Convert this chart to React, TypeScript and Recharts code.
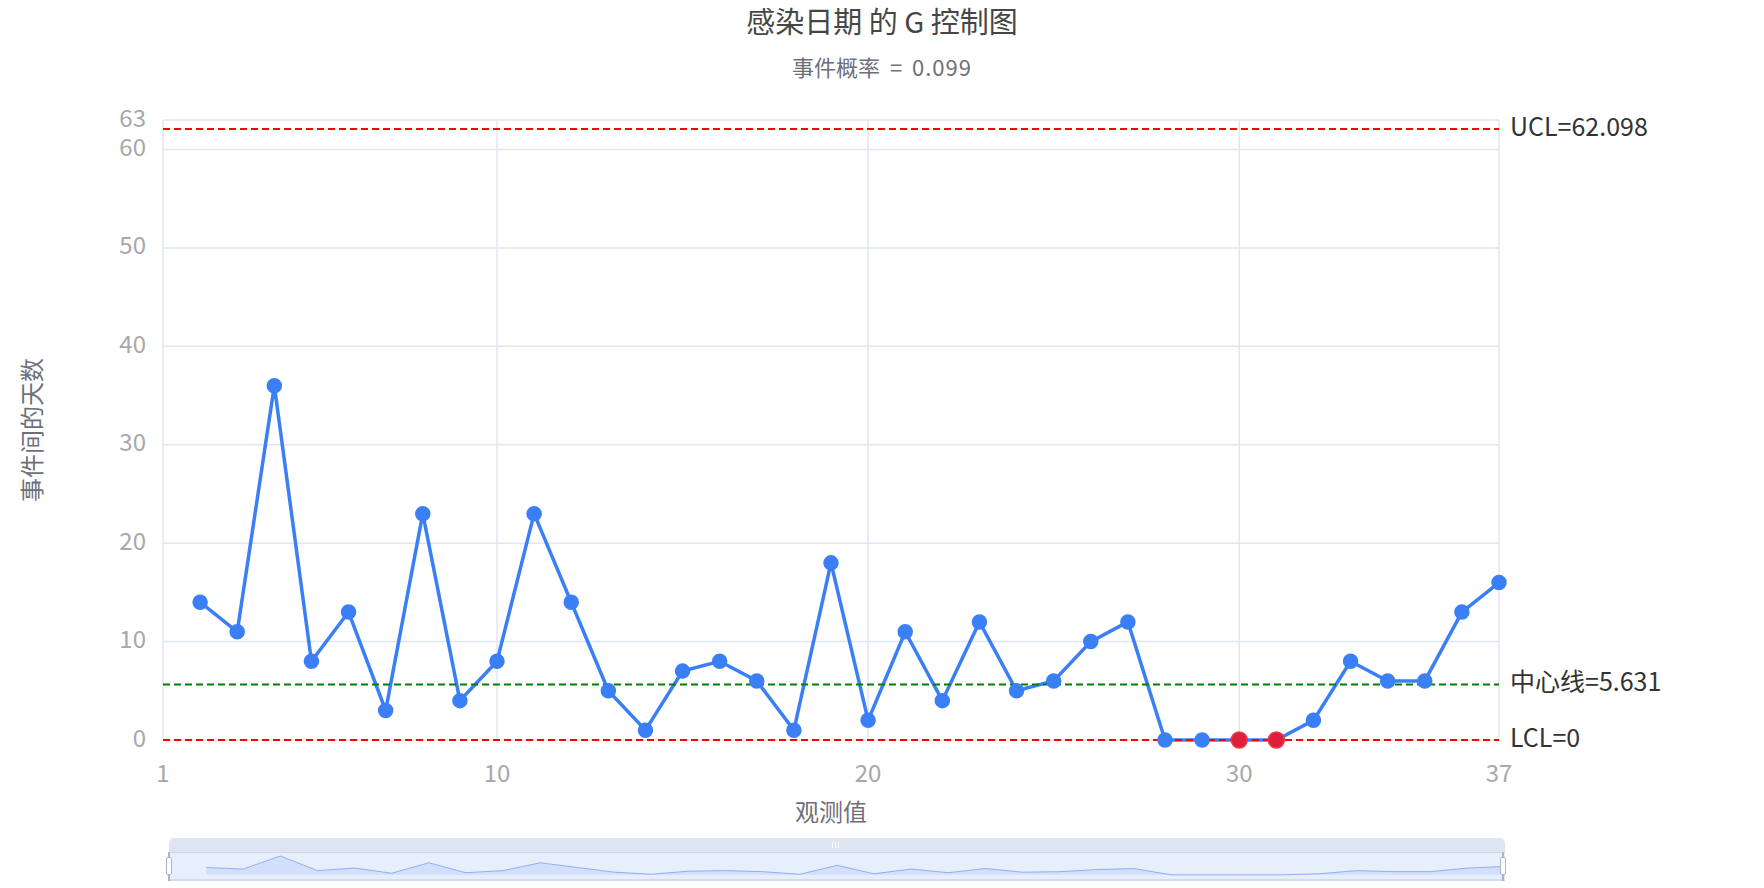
import {
  LineChart,
  Line,
  XAxis,
  YAxis,
  CartesianGrid,
  ReferenceLine,
  Label,
  AreaChart,
  Area,
} from "recharts";

// observation number (the first event has no interval, so the series starts at 2)
const observations = [
  2, 3, 4, 5, 6, 7, 8, 9, 10, 11, 12, 13, 14, 15, 16, 17, 18, 19, 20, 21, 22, 23, 24, 25, 26, 27, 28,
  29, 30, 31, 32, 33, 34, 35, 36, 37,
];
const daysBetween = [
  14, 11, 36, 8, 13, 3, 23, 4, 8, 23, 14, 5, 1, 7, 8, 6, 1, 18, 2, 11, 4, 12, 5, 6, 10, 12, 0, 0, 0,
  0, 2, 8, 6, 6, 13, 16,
];
// points flagged by the control tests
const alarmObservations = [30, 31];

const xTicks = [1, 10, 20, 30, 37];
const yTicks = [0, 10, 20, 30, 40, 50, 60, 63];

const ucl = 62.098;
const centerLine = 5.631;
const lcl = 0;
const eventRate = 0.099;

const FONT = "'Noto Sans CJK SC', 'Noto Sans', sans-serif";
const BLUE = "#3b7ff6";

const data = observations.map((obs, i) => ({ obs, days: daysBetween[i] }));

const renderDot = (props: any) => {
  const { cx, cy, payload, index } = props;
  const alarm = alarmObservations.includes(payload.obs);
  return (
    <circle
      key={`dot-${index}`}
      cx={cx}
      cy={cy}
      r={alarm ? 8 : 7}
      fill={alarm ? "#dc1f3a" : BLUE}
      stroke={alarm ? "#f2364a" : BLUE}
      strokeWidth={1.5}
    />
  );
};

const YTick = (props: any) => {
  const { x, y, payload } = props;
  return (
    <text
      x={x}
      y={y - 4}
      textAnchor="end"
      dominantBaseline="central"
      fill="#a8a8a8"
      fontSize={24}
    >
      {payload.value}
    </text>
  );
};

const markLabel = (value: string) => ({
  value,
  position: "right" as const,
  offset: 11,
  fill: "#333",
  fontSize: 25,
  dy: -2,
});

export default function App() {
  return (
    <div
      style={{
        position: "absolute",
        left: 0,
        top: 0,
        width: 1764,
        height: 888,
        background: "#fff",
        fontFamily: FONT,
      }}
    >
      <div
        style={{
          position: "absolute",
          top: 6,
          left: 0,
          width: 1764,
          textAlign: "center",
          fontSize: 29,
          lineHeight: 1,
          color: "#464646",
        }}
      >
        感染日期 的 G 控制图
      </div>
      <div
        style={{
          position: "absolute",
          top: 55,
          left: 0,
          width: 1764,
          textAlign: "center",
          fontSize: 22,
          lineHeight: 1,
          color: "#6e7079",
          wordSpacing: 5,
        }}
      >
        事件概率 = <span style={{ letterSpacing: 1 }}>{eventRate}</span>
      </div>

      <div style={{ position: "absolute", left: 0, top: 0 }}>
        <LineChart
          width={1764}
          height={888}
          data={data}
          margin={{ top: 120, right: 265, bottom: 88, left: 83 }}
        >
          <CartesianGrid stroke="#e0e6f1" strokeWidth={1.5} />
          <XAxis
            dataKey="obs"
            type="number"
            domain={[1, 37]}
            ticks={xTicks}
            interval={0}
            height={60}
            axisLine={false}
            tickLine={false}
            tickSize={0}
            tickMargin={25}
            tick={{ fill: "#a8a8a8", fontSize: 24 }}
          >
            <Label
              content={(p: any) => {
                const vb = p.viewBox || {};
                return (
                  <text
                    x={vb.x + vb.width / 2}
                    y={vb.y + 70}
                    textAnchor="middle"
                    dominantBaseline="central"
                    fill="#6e7079"
                    fontSize={24}
                  >
                    观测值
                  </text>
                );
              }}
            />
          </XAxis>
          <YAxis
            type="number"
            domain={[0, 63]}
            ticks={yTicks}
            interval={0}
            width={80}
            axisLine={false}
            tickLine={false}
            tickSize={0}
            tickMargin={17}
            tick={<YTick />}
          >
            <Label
              content={(p: any) => {
                const vb = p.viewBox || {};
                const x = vb.x - 53;
                const y = vb.y + vb.height / 2;
                return (
                  <text
                    x={x}
                    y={y}
                    transform={`rotate(-90 ${x} ${y})`}
                    textAnchor="middle"
                    dominantBaseline="central"
                    fill="#6e7079"
                    fontSize={24}
                  >
                    事件间的天数
                  </text>
                );
              }}
            />
          </YAxis>
          <Line
            type="linear"
            dataKey="days"
            stroke={BLUE}
            strokeWidth={3.5}
            dot={renderDot}
            activeDot={false}
            isAnimationActive={false}
          />
          <ReferenceLine
            y={ucl}
            stroke="#ff0000"
            strokeWidth={2}
            strokeDasharray="7 4"
            label={markLabel(`UCL=${ucl}`)}
          />
          <ReferenceLine
            y={centerLine}
            stroke="#008000"
            strokeWidth={2}
            strokeDasharray="7 4"
            label={markLabel(`中心线=${centerLine}`)}
          />
          <ReferenceLine
            y={lcl}
            stroke="#ff0000"
            strokeWidth={2}
            strokeDasharray="7 4"
            label={markLabel(`LCL=${lcl}`)}
          />
        </LineChart>
      </div>

      {/* data zoom slider */}
      <div
        style={{
          position: "absolute",
          left: 169,
          top: 838,
          width: 1336,
          height: 14,
          background: "#dfe4f1",
          borderRadius: "5px 5px 0 0",
        }}
      >
        <div
          style={{
            position: "absolute",
            left: 663,
            top: 4,
            width: 7,
            height: 6,
            borderLeft: "1.5px solid #fff",
            borderRight: "1.5px solid #fff",
            boxSizing: "border-box",
          }}
        >
          <div style={{ margin: "0 auto", width: 1.5, height: 6, background: "#fff" }} />
        </div>
      </div>
      <div
        style={{
          position: "absolute",
          left: 169,
          top: 852,
          width: 1336,
          height: 29,
          background: "#e7eefc",
          borderTop: "1px solid #cfd7ea",
          borderBottom: "2px solid #d3dbee",
          boxSizing: "border-box",
        }}
      />
      <div style={{ position: "absolute", left: 169, top: 852 }}>
        <AreaChart
          width={1336}
          height={28}
          data={data}
          margin={{ top: 4, right: 0, bottom: 1, left: 0 }}
        >
          <XAxis dataKey="obs" type="number" domain={[1, 37]} hide />
          <YAxis type="number" domain={[-8, 36]} hide />
          <Area
            type="linear"
            dataKey="days"
            stroke="#8fb0f6"
            strokeWidth={1}
            fill="#d3e0fb"
            fillOpacity={1}
            dot={false}
            activeDot={false}
            isAnimationActive={false}
          />
        </AreaChart>
      </div>
      {[169, 1503].map((hx) => (
        <div key={hx}>
          <div
            style={{
              position: "absolute",
              left: hx - 0.75,
              top: 852,
              width: 1.5,
              height: 29,
              background: "#a9b3c9",
            }}
          />
          <div
            style={{
              position: "absolute",
              left: hx - 3,
              top: 857,
              width: 6,
              height: 18,
              background: "#fff",
              border: "1.5px solid #a9b3c9",
              borderRadius: 2,
              boxSizing: "border-box",
            }}
          />
        </div>
      ))}
    </div>
  );
}
